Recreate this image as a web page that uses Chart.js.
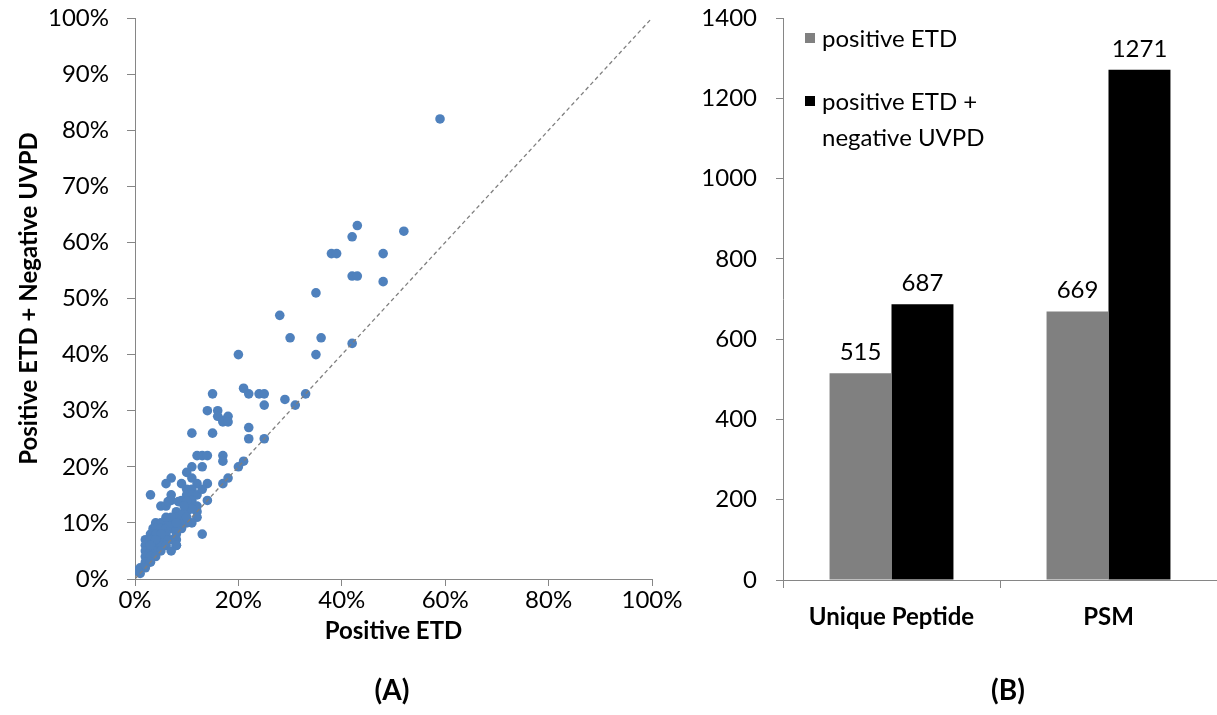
<!DOCTYPE html>
<html>
<head>
<meta charset="utf-8">
<script src="https://cdn.jsdelivr.net/npm/chart.js@4.4.1/dist/chart.umd.min.js"></script>
<style>
body{margin:0;background:#fff;width:1217px;height:715px;overflow:hidden;position:relative;font-family:Lato,sans-serif;color:#000;}
#chartA{position:absolute;left:0;top:0;}
#chartB{position:absolute;left:680px;top:0;}
.panel{position:absolute;top:672px;font-weight:bold;font-size:28px;line-height:34px;transform:translateX(-50%);}
#legend{position:absolute;left:805px;top:20px;font-size:24px;line-height:36px;}
#legend .item{display:flex;align-items:flex-start;margin-bottom:27px;}
#legend .sw{width:10px;height:10px;margin-top:13px;margin-right:7px;flex:none;}
#legend .txt{width:185px;}
</style>
</head>
<body>
<canvas id="chartA" width="700" height="715"></canvas>
<canvas id="chartB" width="537" height="715"></canvas>
<div class="panel" style="left:392px">(A)</div>
<div class="panel" style="left:1008px">(B)</div>
<div id="legend"></div>
<script>
// panel A: sequence coverage per protein (%)
var etdCoverage = [59,43,42,52,38,39,48,42,43,48,35,28,30,36,20,35,42,21,22,24,25,15,33,29,31,25,
  14,16,16,18,17,17,18,11,15,22,22,25,12,13,14,17,17,21,20,11,13,10,11,12,14,17,18,7,6,9,
  10,11,10,11,12,3,7,7,9,11,14,5,6,6.4,8.4,10,8,10,12,8,9.3,13,12,11,10,9,8,7,8,
  4,5,6,3.5,4,5,6,7,8,7,3,4,6,2,3,5,6,8,2,3,4,5,6,8,2,3,4,5,7,2,3,4,2,3,1,2,1,0.5,
  12,13,9,7,6,10,11,9.5,8,5,4,3];
var combinedCoverage = [82,63,61,62,58,58,58,54,54,53,51,47,43,43,40,40,42,34,33,33,33,33,33,32,31,31,
  30,30,29,29,28.3,28,28,26,26,27,25,25,22,22,22,22,21,21,20,20,20,19,18,17,17,17,18,18,17,17,
  16,16,15,15,15,15,15,14,14,14,14,13,13,13.8,13.8,13.8,12,12,12,11,11.7,8,11,10,10,9,8,7,6,
  10,10,10,9,9,9,9,9,9,10,8,8,8,7,7,7,7,7,6,6,6,6,6,6,5,5,5,5,5,4,4,4,3,3,2,2,1,1.5,
  13,16,10.5,11,11,11,12.5,13,10,8,7,6];
var diagonal = [0, 100];
var percentTicks = [0, 20, 40, 60, 80, 100];

// panel B: identification counts
var categories = ['Unique Peptide', 'PSM'];
var seriesNames = ['positive ETD', 'positive ETD + negative UVPD'];
var etdCounts = [515, 669];
var combinedCounts = [687, 1271];
var seriesColors = ['#808080', '#000000'];

var axisGray = '#868686';
var tickFont = {family: 'Lato', size: 24};
var boldFont = {family: 'Lato', size: 24, weight: 'bold'};

function noPad(s){ s.paddingTop = 0; s.paddingBottom = 0; s.paddingLeft = 0; s.paddingRight = 0; }

var scatterPoints = etdCoverage.map(function(v, i){ return {x: v, y: combinedCoverage[i]}; });
var diagPoints = diagonal.map(function(v){ return {x: v, y: v}; });

new Chart(document.getElementById('chartA'), {
  type: 'scatter',
  data: {
    datasets: [
      {data: diagPoints, showLine: true, borderColor: '#7f7f7f', borderWidth: 1.3, borderDash: [4, 3], pointRadius: 0},
      {data: scatterPoints, backgroundColor: '#4F81BD', borderWidth: 0, pointRadius: 4.8}
    ]
  },
  options: {
    responsive: false,
    animation: false,
    layout: {padding: {top: 18, right: 48, left: 0, bottom: 0}},
    plugins: {legend: {display: false}, tooltip: {enabled: false}},
    scales: {
      x: {
        min: 0, max: 100,
        afterBuildTicks: function(s){ s.ticks = percentTicks.map(function(v){ return {value: v}; }); },
        ticks: {font: tickFont, color: '#000', padding: 0, callback: function(v){ return v + '%'; }},
        grid: {drawOnChartArea: false, tickLength: 7, color: axisGray},
        border: {color: axisGray},
        title: {display: true, text: 'Positive ETD', font: boldFont, color: '#000', padding: {top: 0, bottom: 69}},
        afterFit: function(s){ s.height = 136; noPad(s); }
      },
      y: {
        min: 0, max: 100,
        ticks: {stepSize: 10, font: tickFont, color: '#000', padding: 18, callback: function(v){ return v + '%'; }},
        grid: {drawOnChartArea: false, tickLength: 8, color: axisGray},
        border: {color: axisGray},
        title: {display: true, text: 'Positive ETD + Negative UVPD', font: boldFont, color: '#000', padding: {top: 15, bottom: 0}},
        afterFit: function(s){ s.width = 135; noPad(s); }
      }
    }
  }
});

var valueLabels = {
  id: 'valueLabels',
  afterDatasetsDraw: function(chart){
    var ctx = chart.ctx;
    ctx.save();
    ctx.font = '24px Lato';
    ctx.fillStyle = '#000';
    ctx.textAlign = 'center';
    ctx.textBaseline = 'bottom';
    chart.data.datasets.forEach(function(ds, i){
      chart.getDatasetMeta(i).data.forEach(function(bar, j){
        ctx.fillText(ds.data[j], bar.x, bar.y - 9);
      });
    });
    ctx.restore();
  }
};

new Chart(document.getElementById('chartB'), {
  type: 'bar',
  data: {
    labels: categories,
    datasets: [
      {label: seriesNames[0], data: etdCounts, backgroundColor: seriesColors[0]},
      {label: seriesNames[1], data: combinedCounts, backgroundColor: seriesColors[1]}
    ]
  },
  options: {
    responsive: false,
    animation: false,
    categoryPercentage: 0.571,
    barPercentage: 1,
    layout: {padding: {top: 18, right: 0, left: 0, bottom: 0}},
    plugins: {legend: {display: false}, tooltip: {enabled: false}},
    scales: {
      x: {
        ticks: {font: boldFont, color: '#000', padding: 15},
        grid: {drawOnChartArea: false, tickLength: 8, color: axisGray, offset: true},
        border: {color: axisGray},
        afterFit: function(s){ s.height = 135; noPad(s); }
      },
      y: {
        min: 0, max: 1400,
        ticks: {stepSize: 200, font: tickFont, color: '#000', padding: 19, callback: function(v){ return String(v); }},
        grid: {drawOnChartArea: false, tickLength: 7, color: axisGray},
        border: {color: axisGray},
        afterFit: function(s){ s.width = 103; noPad(s); }
      }
    }
  },
  plugins: [valueLabels]
});

// legend inside the plot area
var legend = document.getElementById('legend');
seriesNames.forEach(function(name, i){
  var item = document.createElement('div');
  item.className = 'item';
  item.innerHTML = '<div class="sw" style="background:' + seriesColors[i] + '"></div><div class="txt">' + name + '</div>';
  legend.appendChild(item);
});
</script>
</body>
</html>
